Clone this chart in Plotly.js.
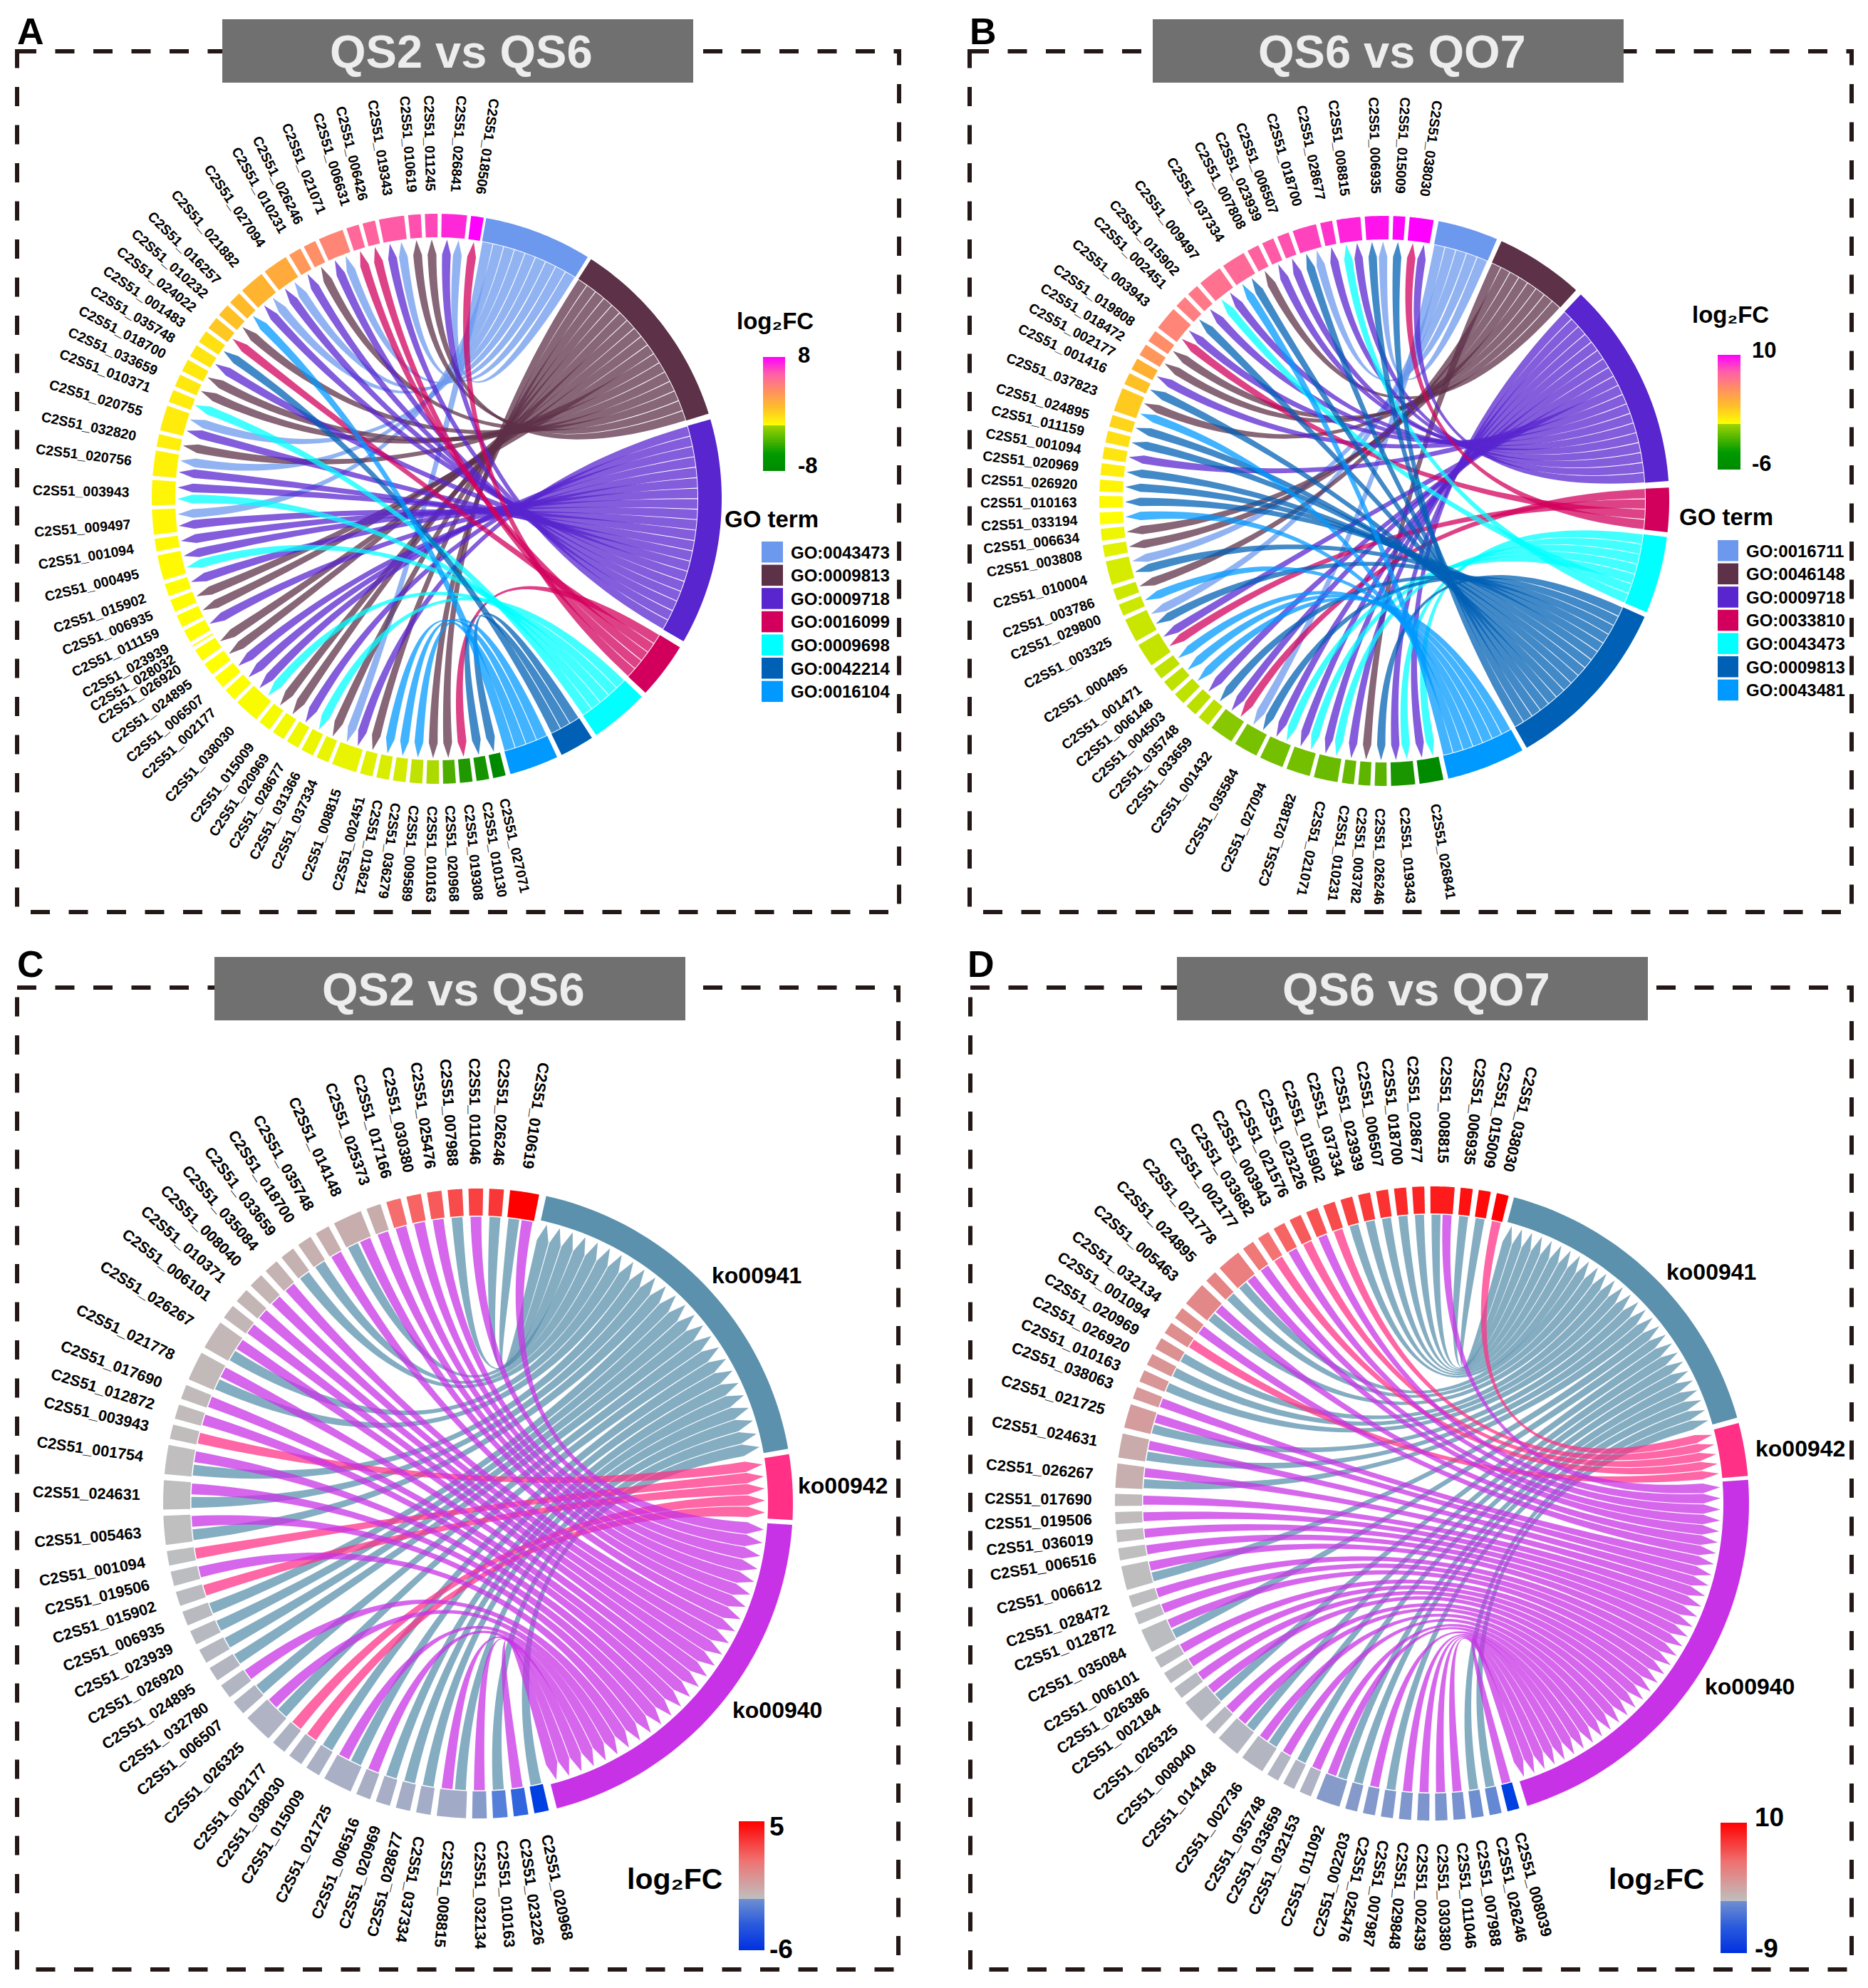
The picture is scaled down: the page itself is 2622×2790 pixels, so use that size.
<!DOCTYPE html>
<html><head><meta charset="utf-8">
<script src="https://cdn.plot.ly/plotly-3.0.1.min.js"></script>
<style>html,body{margin:0;padding:0;background:#fff}#c{width:2622px;height:2790px}</style>
</head><body><div id="c"></div>
<script>
// ---------- DATA (genes listed from the top of each circle going counter-clockwise) ----------
const genesA = ["018506","026841","011245","010619","019343","006426","006631","021071","026246","010231","027094","021882","016257","010232","024022","001483","035748","018700","033659","010371","020755","032820","020756","003943","009497","001094","000495","015902","006935","011159","023939","028032","026920","024895","006507","002177","038030","015009","020969","028677","031366","037334","008815","002451","013621","036279","009589","010163","020968","019308","010130","027071"];
const fcA = [8,7,6.2,6,5.6,5.2,5,3.8,3.5,3.2,2.6,2.3,2.1,1.9,1.7,.9,.8,.7,.7,.6,.6,.5,.4,.3,.25,.2,.15,.1,.1,.1,.05,.05,.05,0,0,-.05,-.2,-.3,-.4,-.5,-.6,-.7,-.7,-1,-1.2,-1.4,-2,-2.6,-5.6,-7,-7.3,-8];
const linksA = [[3],[0,2],[1],[1],[0,2],[3],[3],[0,2],[1],[2],[0,2],[0,2],[6],[1],[3],[5],[2],[1],[1],[4],[0,2],[1],[0,2],[2,4],[0,2],[2],[2,4],[2],[1],[1],[2],[],[1],[1],[2],[2],[2,4],[1],[1],[2],[4],[1],[0,2],[1],[6],[6],[6],[1],[1],[3],[5],[5]];
const termsA = ["GO:0043473","GO:0009813","GO:0009718","GO:0016099","GO:0009698","GO:0042214","GO:0016104"];
const termArcsA = [[10,32],[32.8,72.6],[73.8,120],[121.4,132.9],[134,146],[147,154],[155,165]];
const termColorsA = ["#6C98EE","#5D3148","#5825CE","#D2005C","#00FFFF","#0060B5","#0099FF"];

const genesB = ["038030","015009","006935","008815","028677","018700","006507","023939","007808","037334","009497","015902","002451","003943","019808","018472","002177","001416","037823","024895","011159","001094","020969","026920","010163","033194","006634","003808","010004","003786","029800","003325","000495","001471","006148","004503","035748","033659","001432","035584","027094","021882","021071","010231","003782","026246","019343","026841"];
const fcB = [10,9.8,9.4,8.9,8.4,7.9,7.4,7,6.6,6.2,5.8,5.4,5.1,4.8,4.4,4.1,3,2.4,2,1.6,1.2,1,.7,.4,.2,.05,-.4,-.7,-1,-1.2,-1.2,-1.3,-1.4,-1.5,-1.5,-1.5,-1.6,-1.6,-2.8,-3.2,-3.3,-3.3,-3.5,-3.6,-3.8,-3.9,-5.4,-6];
const linksB = [[2,3],[5],[0,5],[2,4],[2],[0,5],[2],[2],[1],[5,6],[2,4],[2],[5],[2,3],[1],[1],[2],[5],[1,6],[5],[5],[2],[5],[5],[5],[6],[1],[1],[0,5],[1],[6],[0,5],[2,3],[6],[6],[6],[2],[5],[2,3],[0,5],[2,4],[2,4],[2,4],[2],[1],[5],[2,4],[2,4]];
const termsB = ["GO:0016711","GO:0046148","GO:0009718","GO:0033810","GO:0043473","GO:0009813","GO:0043481"];
const termArcsB = [[11,23.3],[24.3,42.3],[43.6,86],[87.3,96.3],[97.3,113],[114,150],[151,167]];
const termColorsB = ["#6C98EE","#5D3148","#5825CE","#D2005C","#00FFFF","#0060B5","#0099FF"];

const genesC = ["010619","026246","011046","007988","025476","030380","017166","025373","014148","035748","018700","033659","035084","008040","010371","006101","026267","021778","017690","012872","003943","001754","024631","005463","001094","019506","015902","006935","023939","026920","024895","032780","006507","026325","002177","038030","015009","021725","006516","020969","028677","037334","008815","032134","010163","023226","020968"];
const fcC = [5,3.9,3.7,3.5,3.2,3,2.8,.75,.7,.65,.6,.55,.5,.45,.4,.35,.3,.25,.2,.15,.1,.05,.02,0,-.1,-.2,-.3,-.4,-.5,-.6,-.7,-.8,-.9,-1,-1.1,-1.2,-1.3,-1.4,-1.5,-1.6,-1.7,-1.8,-2,-3,-4.2,-5,-6];
const linksC = [[0,2],[0],[2],[0],[2],[2],[2],[2],[0,2],[2],[0],[0],[2],[2],[2],[2],[0,2],[0,2],[2],[2],[1],[0,2],[0,2],[0,2],[1],[2],[1],[0],[0],[0],[0],[2],[0],[0,2],[1],[1],[0],[0,2],[2],[0],[0],[0],[0,2],[2],[0],[2],[0]];
const termsC = ["ko00941","ko00942","ko00940"];
const termArcsC = [[12.5,80],[81,93],[93.9,165.5]];
const termColorsC = ["#5B91AD","#FF3085","#C832E6"];

const genesD = ["038030","015009","006935","008815","028677","018700","006507","023939","037334","015902","023226","021576","003943","033682","002177","021778","024895","005463","032134","001094","020969","026920","010163","038063","021725","024631","026267","017690","019506","036019","006516","006612","028472","012872","035084","006101","026386","002184","026325","008040","014148","002736","035748","033659","032153","011092","002203","025476","007987","029848","002439","030380","011046","007988","026246","008039"];
const fcD = [10,9.6,9.3,8.9,8.6,8.3,8,7.7,7.4,7,6.7,6.4,6,5.4,5,4.6,4.2,3.9,3.7,3.5,3.3,3.1,3,2.8,2.6,1.6,1.3,.4,.2,.1,0,-.1,-.2,-.3,-.4,-.5,-.6,-.7,-.8,-.9,-1,-1.1,-1.2,-1.3,-1.5,-4.5,-4.6,-4.7,-4.8,-4.9,-5,-5.1,-5.2,-5.4,-5.8,-9];
const linksD = [[1],[0],[0],[0,2],[0],[0],[0],[0],[0],[1],[2],[1],[2],[1],[2],[0,2],[0],[0,2],[2],[1],[0],[0],[0],[2],[0,2],[0,2],[0,2],[2],[2],[2],[2],[0,2],[2],[2],[0,2],[2],[2],[2],[0,2],[2],[0,2],[0,2],[2],[0],[2],[0,2],[0],[2],[0],[2],[2],[2],[2],[0],[0],[2]];
const termsD = ["ko00941","ko00942","ko00940"];
const termArcsD = [[15,74.3],[75.3,85],[85.7,162.5]];
const termColorsD = ["#5B91AD","#FF3085","#C832E6"];

// ---------- SCALES ----------
const posGo = [[0,"#FFFF00"],[.3,"#FFB030"],[.5,"#FF8080"],[.75,"#FF50B0"],[1,"#FF00FF"]];
const negGo = [[0,"#FFFF00"],[1,"#008A00"]];
const posKo = [[0,"#BFBFBF"],[.15,"#C8ACAC"],[.55,"#F57070"],[1,"#FF0000"]];
const negKo = [[0,"#BFBFBF"],[.15,"#B0B4C2"],[.35,"#A0AAC8"],[.55,"#7E96CC"],[.75,"#4878DC"],[1,"#0040E0"]];
const barGo = [[0,"#008A00"],[.15,"#009A00"],[.4,"#A0D400"],[.4,"#FFFF00"],[.55,"#FFC028"],[.7,"#FF9060"],[.85,"#FF60A8"],[1,"#FF00FF"]];
const barKo = [[0,"#0030E0"],[.2,"#2A5ADC"],[.4,"#7090D0"],[.4,"#BFBFBF"],[.7,"#F07070"],[1,"#FF0000"]];

function hex(c){return [1,3,5].map(i=>parseInt(c.substr(i,2),16));}
function ramp(st,f){f=Math.min(1,Math.max(0,f));for(let i=1;i<st.length;i++){if(f<=st[i][0]){const a=st[i-1],b=st[i],t=(f-a[0])/(b[0]-a[0]||1),A=hex(a[1]),B=hex(b[1]);return "rgb("+A.map((v,k)=>Math.round(v+(B[k]-v)*t)).join(",")+")";}}return st[st.length-1][1];}
function rgba(c,a){const h=hex(c);return `rgba(${h[0]},${h[1]},${h[2]},${a})`;}

// ---------- PANEL LAYOUT ----------
const panels = [
 {genes:genesA,fc:fcA,links:linksA,terms:termsA,arcs:termArcsA,cols:termColorsA,kind:"go",cx:613,cy:700,R:400,ringG:33,ringT:33,tR:400,gStart:166,gEnd:369.5,gapR:.32,fcMax:8,fcMin:-8,font:19.5,lab:99,
  frame:[24,72,1262,1280],box:[312,27,973,116],title:"QS2 vs QS6",letter:["A",43,44],
  lfc:[1088,450],bar:[1071,1102,501,661],hi:["8",1128,498],lo:["-8",1134,653],goT:[1083,728],sw:[1069,1099,760],txtX:1108},
 {genes:genesB,fc:fcB,links:linksB,terms:termsB,arcs:termArcsB,cols:termColorsB,kind:"go",cx:1943,cy:703,R:400,ringG:33,ringT:33,tR:400,gStart:168,gEnd:370,gapR:.36,fcMax:10,fcMin:-6,font:19.5,lab:99,
  frame:[1361,72,2599,1280],box:[1618,27,2279,116],title:"QS6 vs QO7",letter:["B",1380,44],
  lfc:[2429,441],bar:[2411,2443,498,659],hi:["10",2476,491],lo:["-6",2473,650],goT:[2423,725],sw:[2411,2440,758],txtX:2449},
 {genes:genesC,fc:fcC,links:linksC,terms:termsC,arcs:termArcsC,cols:termColorsC,kind:"ko",cx:671,cy:2110,R:442,ringG:38,ringT:35,tR:442,gStart:167,gEnd:371.2,gapR:.42,fcMax:5,fcMin:-6,font:21.7,lab:108,
  frame:[24,1386,1261,2764],box:[301,1343,962,1432],title:"QS2 vs QS6",letter:["C",43,1353],
  lfc:[947,2637],bar:[1037,1073,2556,2737],hi:["5",1090,2563],lo:["-6",1096,2735],
  termLab:[[1062,1790],[1183,2085],[1091,2400]]},
 {genes:genesD,fc:fcD,links:linksD,terms:termsD,arcs:termArcsD,cols:termColorsD,kind:"ko",cx:2010,cy:2110,R:445,ringG:38,ringT:36,tR:445,gStart:164,gEnd:374,gapR:.5,fcMax:10,fcMin:-9,font:21.7,lab:108,
  frame:[1362,1386,2599,2764],box:[1652,1343,2313,1432],title:"QS6 vs QO7",letter:["D",1377,1353],
  lfc:[2325,2637],bar:[2415,2452,2558,2741],hi:["10",2483,2550],lo:["-9",2479,2734],
  termLab:[[2402,1785],[2527,2033],[2456,2367]]}
];

const FONT = "Liberation Sans, Arial, sans-serif";
const traces=[], shapes=[], annos=[];
function pol(p,r,deg){const a=deg*Math.PI/180;return [p.cx+r*Math.sin(a),p.cy-r*Math.cos(a)];}
function poly(pts,color){traces.push({type:"scatter",mode:"none",x:pts.map(q=>q[0]),y:pts.map(q=>q[1]),fill:"toself",fillcolor:color,hoverinfo:"skip",showlegend:false});}
function arc(p,r,a,b,n){const o=[];for(let i=0;i<=n;i++)o.push(pol(p,r,a+(b-a)*i/n));return o;}
function curve(p,rs,as,re,ae){const S=pol(p,rs,as),E=pol(p,re,ae),o=[];for(let i=0;i<=44;i++){const t=i/44,u=(1-t)*(1-t),v=t*t;o.push([p.cx+u*(S[0]-p.cx)+v*(E[0]-p.cx),p.cy+u*(S[1]-p.cy)+v*(E[1]-p.cy)]);}return o;}
function label(txt,x,y,size,color,extra){annos.push(Object.assign({text:txt,x:x,y:y,xref:"x",yref:"y",showarrow:false,xanchor:"center",yanchor:"middle",font:{family:FONT,size:size,color:color||"#000",weight:700}},extra||{}));}

panels.forEach(p=>{
  const idx=p.genes.map((_,i)=>p.genes.length-1-i);
  const units=idx.reduce((s,i)=>s+Math.max(p.links[i].length,.12),0);
  const u=(p.gEnd-p.gStart)/(units+p.gapR*(p.genes.length-1));
  const gap=u*p.gapR, rGo=p.R, rGi=p.R-p.ringG, rTo=p.tR, rTi=p.tR-p.ringT;
  const counts=p.terms.map((_,t)=>p.links.reduce((s,l)=>s+(l.includes(t)?1:0),0));
  const used=p.terms.map(()=>0);
  const ribbons=p.terms.map(()=>[]);
  let a=p.gStart;
  idx.forEach(i=>{
    const L=p.links[i], w=Math.max(L.length,.12)*u;
    const f=p.fc[i]>=0? ramp(p.kind=="go"?posGo:posKo,p.fc[i]/p.fcMax): ramp(p.kind=="go"?negGo:negKo,p.fc[i]/p.fcMin);
    poly(arc(p,rGo,a,a+w,10).concat(arc(p,rGi,a+w,a,10)),f);
    const ord=p.kind=="go"?L.slice().sort((x,y)=>y-x):L.slice().sort((x,y)=>x-y);
    ord.forEach((t,k)=>{
      const c0=a+k*u, pad=u*(p.kind=="go"?.1:.09);
      const a1=c0+pad,a2=c0+u-pad;
      const tu=(p.arcs[t][1]-p.arcs[t][0])/counts[t];
      // GO panels cross at a hub; KEGG panels are nested (bottom gene to the far end of the term)
      const s=p.kind=="go"?used[t]:counts[t]-1-used[t];
      const b1=p.arcs[t][0]+s*tu+.09, b2=p.arcs[t][0]+(s+1)*tu-.09;
      used[t]++;
      ribbons[t].push([a1,a2,b1,b2]);
    });
    const th=a+w/2, rot=th<=193?th-90:th-270;
    const c=pol(p,p.R+p.lab,th);
    label("C2S51_"+p.genes[i],c[0],c[1],p.font,"#000",{textangle:rot});
    a+=w+gap;
  });
  p.terms.forEach((t,ti)=>{
    poly(arc(p,rTo,p.arcs[ti][0],p.arcs[ti][1],40).concat(arc(p,rTi,p.arcs[ti][1],p.arcs[ti][0],40)),p.cols[ti]);
    const col=rgba(p.cols[ti],.74);
    ribbons[ti].forEach(r=>{
      const [a1,a2,b1,b2]=r; let pts;
      if(p.kind=="go"){
        const tip=rGi-3, sh=tip-21, rT=rTi-1;
        const e1=curve(p,sh,a1,rT,b2), e2=curve(p,sh,a2,rT,b1).reverse();
        pts=[pol(p,tip,(a1+a2)/2)].concat(e1,arc(p,rT,b2,b1,4),e2);
      }else{
        const rG=rGi-1.5, tip=rTi-4, sh=tip-24;
        const e1=curve(p,rG,a1,sh,b2), e2=curve(p,rG,a2,sh,b1).reverse();
        pts=e1.concat([pol(p,tip,(b1+b2)/2)],e2);
      }
      poly(pts,col);
    });
  });
  shapes.push({type:"rect",xref:"x",yref:"y",x0:p.frame[0],y0:p.frame[1],x1:p.frame[2],y1:p.frame[3],line:{color:"#231815",width:6,dash:"27px,26.5px"},layer:"below"});
  shapes.push({type:"rect",xref:"x",yref:"y",x0:p.box[0],y0:p.box[1],x1:p.box[2],y1:p.box[3],fillcolor:"#717071",line:{width:0},layer:"above"});
  label(p.title,(p.box[0]+p.box[2])/2+5,(p.box[1]+p.box[3])/2+1,65,"#EDEDED");
  label(p.letter[0],p.letter[1],p.letter[2],52,"#000");
  const N=120,z=[];for(let i=0;i<N;i++)z.push([1-(i+.5)/N]);
  traces.push({type:"heatmap",z:z,x0:(p.bar[0]+p.bar[1])/2,dx:p.bar[1]-p.bar[0],y0:p.bar[2]+(p.bar[3]-p.bar[2])/N/2,dy:(p.bar[3]-p.bar[2])/N,zmin:0,zmax:1,colorscale:p.kind=="go"?barGo:barKo,showscale:false,hoverinfo:"skip"});
  const big=p.kind=="go"?33:41, tk=p.kind=="go"?31:37;
  label("log\u2082FC",p.lfc[0],p.lfc[1],big);
  label(p.hi[0],p.hi[1],p.hi[2],tk);
  label(p.lo[0],p.lo[1],p.lo[2],tk);
  if(p.kind=="go"){
    label("GO term",p.goT[0],p.goT[1],33);
    p.terms.forEach((t,i)=>{
      const y0=p.sw[2]+i*32.6;
      shapes.push({type:"rect",xref:"x",yref:"y",x0:p.sw[0],x1:p.sw[1],y0:y0,y1:y0+29.5,fillcolor:p.cols[i],line:{width:0},layer:"above"});
      annos.push({text:t,x:p.txtX,y:y0+15,xref:"x",yref:"y",showarrow:false,xanchor:"left",yanchor:"middle",font:{family:FONT,size:24,color:"#000",weight:700}});
    });
  }else{
    p.terms.forEach((t,i)=>label(t,p.termLab[i][0],p.termLab[i][1],32));
  }
});

Plotly.newPlot("c",traces,{
  width:2622,height:2790,margin:{l:0,r:0,t:0,b:0},paper_bgcolor:"#fff",plot_bgcolor:"#fff",showlegend:false,
  xaxis:{range:[0,2622],visible:false,fixedrange:true},
  yaxis:{range:[2790,0],visible:false,fixedrange:true},
  shapes:shapes,annotations:annos
},{staticPlot:true,displayModeBar:false});
</script></body></html>
